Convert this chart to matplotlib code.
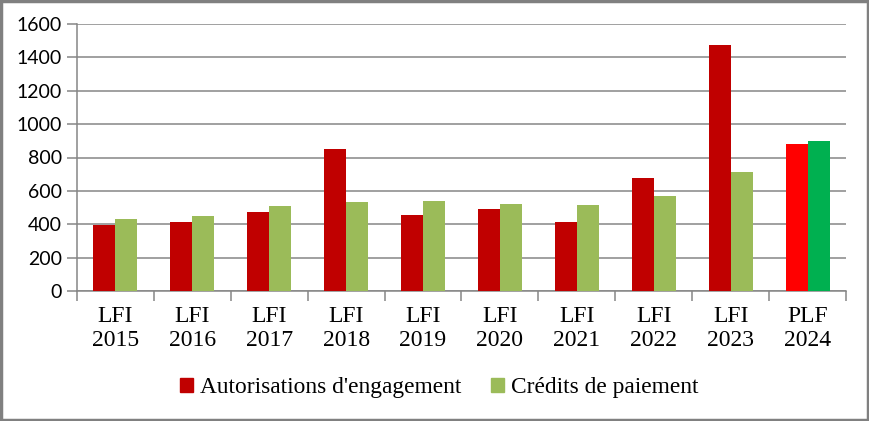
import numpy as np
import matplotlib
matplotlib.use("Agg")
import matplotlib.pyplot as plt
from matplotlib.patches import Patch, Rectangle

# Data
categories = ["LFI\n2015", "LFI\n2016", "LFI\n2017", "LFI\n2018", "LFI\n2019",
              "LFI\n2020", "LFI\n2021", "LFI\n2022", "LFI\n2023", "PLF\n2024"]
ae = [397, 415, 471, 850, 455, 491, 414, 677, 1474, 881]
cp = [433, 451, 511, 533, 539, 521, 515, 569, 713, 899]
ae_colors = ["#C00000"] * 9 + ["#FF0000"]
cp_colors = ["#9BBB59"] * 9 + ["#00B050"]
yticks = [0, 200, 400, 600, 800, 1000, 1200, 1400, 1600]

grey = "#868686"
serif = ["Liberation Serif", "DejaVu Serif"]

fig = plt.figure(figsize=(8.7, 4.21), dpi=100)
ax = fig.add_axes([77 / 870, 1 - 291 / 421, (846 - 77) / 870, (291 - 24) / 421])

x = np.arange(len(categories))
w = 0.286
ax.bar(x - w / 2, ae, width=w, color=ae_colors, zorder=3)
ax.bar(x + w / 2, cp, width=w, color=cp_colors, zorder=3)

ax.set_xlim(-0.5, len(categories) - 0.5)
ax.set_ylim(0, 1600)
ax.set_yticks(yticks)
ax.set_yticklabels([str(v) for v in yticks], fontfamily="Lato", fontsize=14)
ax.yaxis.grid(True, color=grey, linewidth=1.1, zorder=0)
ax.tick_params(axis="y", length=7, color=grey, width=1.1, pad=4)

# category labels between boundary ticks
ax.set_xticks(x)
ax.set_xticklabels(categories, fontfamily=serif, fontsize=17, linespacing=1.15)
ax.tick_params(axis="x", length=0, pad=11)
ax.set_xticks(np.arange(len(categories) + 1) - 0.5, minor=True)
ax.tick_params(axis="x", which="minor", length=7, color=grey, width=1.1)

for side in ["top", "right"]:
    ax.spines[side].set_visible(False)
for side in ["left", "bottom"]:
    ax.spines[side].set_color(grey)
    ax.spines[side].set_linewidth(1.1)

handles = [Patch(color="#C00000", label="Autorisations d'engagement"),
           Patch(color="#9BBB59", label="Crédits de paiement")]
fig.legend(handles=handles, loc="center", bbox_to_anchor=(0.505, 1 - 388 / 421),
           ncol=2, frameon=False, prop={"family": serif, "size": 16.8},
           handlelength=0.55, handleheight=0.55, handletextpad=0.3, columnspacing=1.3)

fig.add_artist(Rectangle((0.001, 0.002), 0.997, 0.995, transform=fig.transFigure,
                         fill=False, edgecolor="#808080", linewidth=2.5))

fig.savefig("out.png", dpi=100)
